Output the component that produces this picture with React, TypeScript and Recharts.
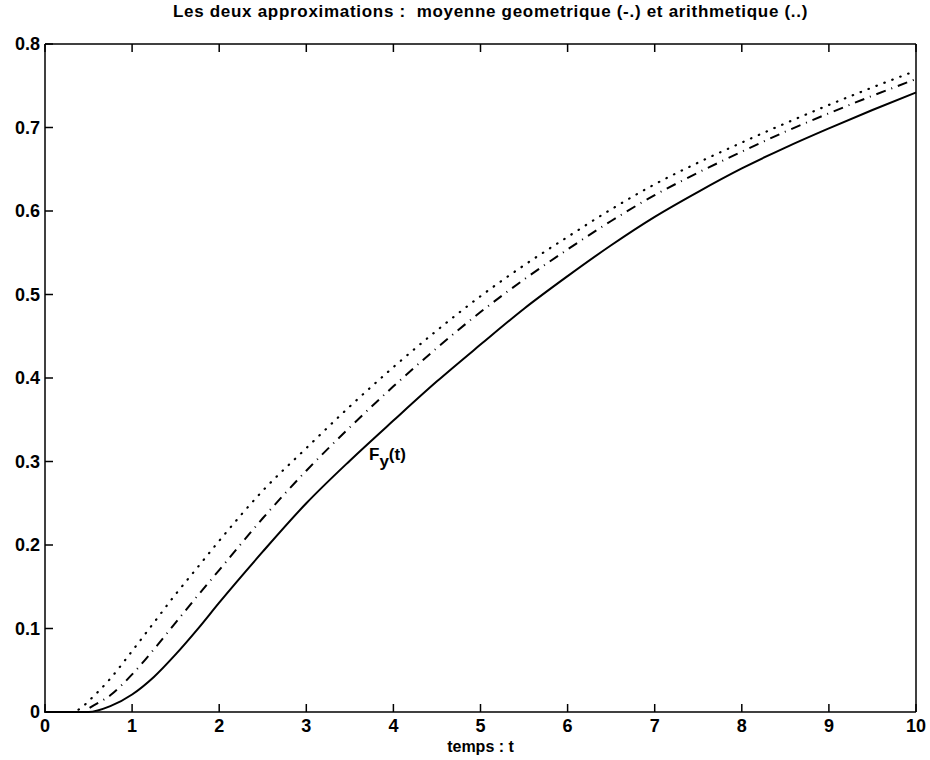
import React from 'react'
import { LineChart, Line, XAxis, YAxis, ReferenceDot } from 'recharts'

const title = 'Les deux approximations :  moyenne geometrique (-.) et arithmetique (..)'
const xLabel = 'temps : t'

const tValues = [0, 0.3, 0.45, 0.5, 0.75, 1, 1.25, 1.5, 1.75, 2, 2.5, 3, 3.5, 4, 4.5, 5, 5.5, 6, 6.5, 7, 7.5, 8, 8.5, 9, 9.5, 10]
// F_y(t), trait plein
const exact = [0, 0, 0, 0, 0.007, 0.021, 0.042, 0.069, 0.099, 0.131, 0.192, 0.25, 0.301, 0.349, 0.396, 0.44, 0.483, 0.522, 0.559, 0.593, 0.623, 0.651, 0.676, 0.699, 0.721, 0.742]
// moyenne geometrique (-.)
const geometric = [0, 0, 0, 0.004, 0.02, 0.045, 0.075, 0.107, 0.139, 0.17, 0.232, 0.289, 0.341, 0.39, 0.436, 0.479, 0.518, 0.554, 0.588, 0.619, 0.646, 0.671, 0.695, 0.717, 0.738, 0.758]
// moyenne arithmetique (..)
const arithmetic = [0, 0, 0.008, 0.013, 0.04, 0.073, 0.107, 0.141, 0.173, 0.205, 0.265, 0.316, 0.366, 0.413, 0.457, 0.498, 0.535, 0.569, 0.602, 0.632, 0.658, 0.682, 0.705, 0.727, 0.748, 0.768]

const xTicks = [0, 1, 2, 3, 4, 5, 6, 7, 8, 9, 10]
const yTicks = [0, 0.1, 0.2, 0.3, 0.4, 0.5, 0.6, 0.7, 0.8]

const annotation = { t: 3.72, y: 0.302 }

const data = tValues.map((t, i) => ({
  t,
  exact: exact[i],
  geometric: geometric[i],
  arithmetic: arithmetic[i],
}))

const FONT = '"Liberation Sans", Arial, Helvetica, sans-serif'
const TICK = 8

function BottomTick({ x, y, payload }: any) {
  return (
    <g>
      <line x1={x} y1={y} x2={x} y2={y - TICK} stroke="#000" strokeWidth={1.5} />
      <text x={x} y={y + 14} textAnchor="middle" dominantBaseline="central" fontFamily={FONT} fontSize={18} fontWeight={700} fill="#000">
        {payload.value}
      </text>
    </g>
  )
}

function TopTick({ x, y }: any) {
  return <line x1={x} y1={y} x2={x} y2={y + TICK} stroke="#000" strokeWidth={1.5} />
}

function LeftTick({ x, y, payload }: any) {
  return (
    <g>
      <line x1={x} y1={y} x2={x + TICK} y2={y} stroke="#000" strokeWidth={1.5} />
      <text x={x - 5} y={y} textAnchor="end" dominantBaseline="central" fontFamily={FONT} fontSize={18} fontWeight={700} fill="#000">
        {payload.value}
      </text>
    </g>
  )
}

function RightTick({ x, y }: any) {
  return <line x1={x} y1={y} x2={x - TICK} y2={y} stroke="#000" strokeWidth={1.5} />
}

function FyLabel({ viewBox }: any) {
  const x = viewBox.x + (viewBox.width || 0) / 2
  const y = viewBox.y + (viewBox.height || 0) / 2
  return (
    <text x={x} y={y} fontFamily={FONT} fontSize={17} fontWeight={700} fill="#000">
      <tspan>F</tspan>
      <tspan dy={7}>y</tspan>
      <tspan dy={-7}>(t)</tspan>
    </text>
  )
}

export default function App() {
  return (
    <div style={{ position: 'absolute', left: 0, top: 0, width: 930, height: 760, background: '#fff' }}>
      <div
        style={{
          position: 'absolute',
          left: 45,
          width: 871,
          paddingLeft: 20,
          boxSizing: 'border-box',
          top: 2,
          textAlign: 'center',
          fontFamily: FONT,
          fontSize: 17,
          letterSpacing: 0.7,
          fontWeight: 700,
          color: '#000',
          whiteSpace: 'pre',
        }}
      >
        {title}
      </div>
      <LineChart width={930} height={760} data={data} margin={{ top: 0, right: 0, bottom: 0, left: 0 }}>
        <XAxis
          xAxisId="bottom"
          dataKey="t"
          type="number"
          domain={[0, 10]}
          ticks={xTicks}
          height={48}
          tickSize={0}
          tickMargin={0}
          tickLine={false}
          tick={<BottomTick />}
          axisLine={{ stroke: '#000', strokeWidth: 1.5 }}
          interval={0}
          label={{ value: xLabel, position: 'insideBottom', offset: 8, fill: '#000', fontFamily: FONT, fontSize: 16, fontWeight: 700 }}
        />
        <XAxis
          xAxisId="top"
          orientation="top"
          dataKey="t"
          type="number"
          domain={[0, 10]}
          ticks={xTicks}
          height={44}
          tickSize={0}
          tickMargin={0}
          tickLine={false}
          tick={<TopTick />}
          axisLine={{ stroke: '#000', strokeWidth: 1.5 }}
          interval={0}
        />
        <YAxis
          yAxisId="left"
          type="number"
          domain={[0, 0.8]}
          ticks={yTicks}
          width={45}
          tickSize={0}
          tickMargin={0}
          tickLine={false}
          tick={<LeftTick />}
          axisLine={{ stroke: '#000', strokeWidth: 1.5 }}
          interval={0}
        />
        <YAxis
          yAxisId="right"
          orientation="right"
          type="number"
          domain={[0, 0.8]}
          ticks={yTicks}
          width={14}
          tickSize={0}
          tickMargin={0}
          tickLine={false}
          tick={<RightTick />}
          axisLine={{ stroke: '#000', strokeWidth: 1.5 }}
          interval={0}
        />
        <Line
          xAxisId="bottom"
          yAxisId="left"
          type="monotone"
          dataKey="arithmetic"
          stroke="#000"
          strokeWidth={2.2}
          strokeDasharray="0.5 8"
          strokeLinecap="round"
          dot={false}
          isAnimationActive={false}
        />
        <Line
          xAxisId="bottom"
          yAxisId="left"
          type="monotone"
          dataKey="geometric"
          stroke="#000"
          strokeWidth={2}
          strokeDasharray="10 6 1 6"
          dot={false}
          isAnimationActive={false}
        />
        <Line
          xAxisId="bottom"
          yAxisId="left"
          type="monotone"
          dataKey="exact"
          stroke="#000"
          strokeWidth={2}
          dot={false}
          isAnimationActive={false}
        />
        <ReferenceDot
          xAxisId="bottom"
          yAxisId="left"
          x={annotation.t}
          y={annotation.y}
          r={0}
          stroke="none"
          fill="none"
          label={<FyLabel />}
        />
      </LineChart>
    </div>
  )
}
